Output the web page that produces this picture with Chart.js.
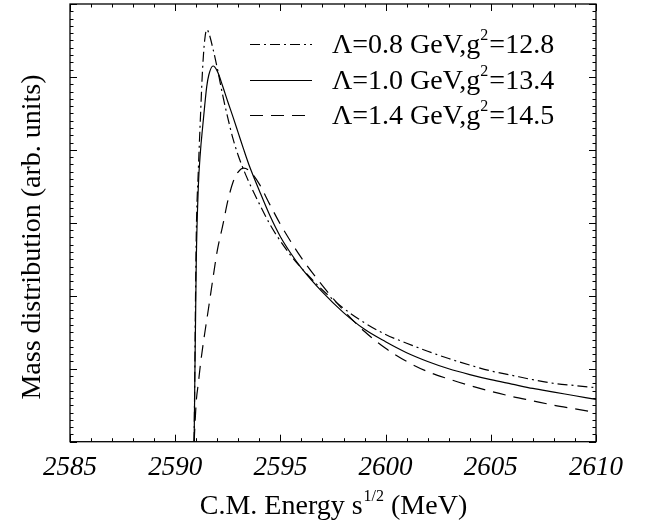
<!DOCTYPE html>
<html>
<head>
<meta charset="utf-8">
<script src="https://cdn.jsdelivr.net/npm/chart.js@4/dist/chart.umd.min.js"></script>
<style>
html,body{margin:0;padding:0;background:#fff;}
#wrap{width:653px;height:525px;position:relative;}
</style>
</head>
<body>
<div id="wrap"><canvas id="c" width="653" height="525"></canvas></div>
<script>
// ---- data ----
const energy = [2590.9, 2591.0, 2591.1, 2591.2, 2591.3, 2591.4, 2591.5, 2591.6, 2591.8, 2592.0,
  2592.25, 2592.5, 2592.75, 2593.0, 2593.25, 2593.5, 2594.0, 2594.5, 2595.0, 2595.5,
  2596.0, 2597.0, 2598.0, 2599.0, 2600.0, 2601.0, 2602.0, 2603.0, 2604.0, 2605.0,
  2606.0, 2607.0, 2608.0, 2609.0, 2610.0];
const massL08 = [0, 2.8, 3.72, 4.45, 5.1, 5.5, 5.65, 5.6, 5.38, 5.12,
  4.76, 4.44, 4.15, 3.92, 3.73, 3.56, 3.26, 2.98, 2.75, 2.55,
  2.38, 2.08, 1.83, 1.63, 1.47, 1.35, 1.24, 1.14, 1.05, 0.97,
  0.91, 0.85, 0.80, 0.77, 0.74];
const massL10 = [0, 2.45, 3.5, 3.98, 4.3, 4.6, 4.87, 5.03, 5.15, 5.08,
  4.88, 4.66, 4.45, 4.23, 4.01, 3.80, 3.44, 3.10, 2.81, 2.58,
  2.38, 2.05, 1.77, 1.54, 1.37, 1.22, 1.10, 1.00, 0.92, 0.85,
  0.79, 0.73, 0.68, 0.63, 0.58];
const massL14 = [0, 0.55, 0.8, 1.06, 1.28, 1.48, 1.67, 1.86, 2.25, 2.62,
  2.95, 3.3, 3.56, 3.70, 3.75, 3.72, 3.53, 3.25, 2.98, 2.74,
  2.52, 2.14, 1.80, 1.51, 1.28, 1.10, 0.96, 0.86, 0.77, 0.69,
  0.62, 0.56, 0.50, 0.45, 0.40];
const lambdaGeV = ['0.8', '1.0', '1.4'];
const gSquared = ['12.8', '13.4', '14.5'];
const xTickValues = [2585, 2590, 2595, 2600, 2605, 2610];
const xTitleParts = ['C.M. Energy s', '1/2', ' (MeV)'];
const yTitle = 'Mass distribution (arb. units)';

const SERIF = '"Liberation Serif", "Times New Roman", serif';
const series = [massL08, massL10, massL14];
const dashes = [[10, 4, 2, 4], [], [13, 8]];

const datasets = series.map((s, i) => ({
  label: 'Λ=' + lambdaGeV[i] + ' GeV,g²=' + gSquared[i],
  data: energy.map((e, k) => ({x: e, y: s[k]})),
  borderColor: '#000',
  borderWidth: 1.2,
  borderDash: dashes[i],
  pointRadius: 0,
  fill: false,
  cubicInterpolationMode: 'monotone'
}));

const inwardTicks = {
  id: 'inwardTicks',
  afterDatasetsDraw(chart) {
    const {ctx, chartArea: a, scales: {x, y}} = chart;
    ctx.save();
    ctx.strokeStyle = '#000';
    ctx.lineWidth = 1;
    for (let v = 2585; v <= 2610; v += 1) {
      const px = Math.round(x.getPixelForValue(v)) + 0.5;
      const len = (v % 5 === 0) ? 7 : 3.5;
      ctx.beginPath();
      ctx.moveTo(px, a.bottom); ctx.lineTo(px, a.bottom - len);
      ctx.moveTo(px, a.top); ctx.lineTo(px, a.top + len);
      ctx.stroke();
    }
    for (let k = 0; k <= 60; k++) {
      const v = k / 10;
      const py = Math.round(y.getPixelForValue(v)) + 0.5;
      const len = (k % 10 === 0) ? 7 : 3.5;
      ctx.beginPath();
      ctx.moveTo(a.left, py); ctx.lineTo(a.left + len, py);
      ctx.moveTo(a.right, py); ctx.lineTo(a.right - len, py);
      ctx.stroke();
    }
    ctx.lineWidth = 1.3;
    ctx.strokeRect(a.left, a.top, a.right - a.left, a.bottom - a.top);
    ctx.restore();
  }
};

const texts = {
  id: 'texts',
  afterDraw(chart) {
    const {ctx, chartArea: a} = chart;
    ctx.save();
    ctx.fillStyle = '#000';
    ctx.textBaseline = 'alphabetic';
    // legend
    const rowY = [44, 80, 115];
    chart.data.datasets.forEach((ds, i) => {
      ctx.save();
      ctx.strokeStyle = ds.borderColor;
      ctx.lineWidth = ds.borderWidth;
      ctx.setLineDash(ds.borderDash);
      ctx.beginPath();
      ctx.moveTo(250, rowY[i] + 0.5); ctx.lineTo(312, rowY[i] + 0.5);
      ctx.stroke();
      ctx.restore();
      const base = rowY[i] + 9;
      let tx = 332;
      ctx.font = '28px ' + SERIF;
      const p1 = 'Λ=' + lambdaGeV[i] + ' GeV,g';
      ctx.fillText(p1, tx, base); tx += ctx.measureText(p1).width;
      ctx.font = '16px ' + SERIF;
      ctx.fillText('2', tx, base - 13); tx += ctx.measureText('2').width + 1;
      ctx.font = '28px ' + SERIF;
      ctx.fillText('=' + gSquared[i], tx, base);
    });
    // x title
    const big = '28px ' + SERIF, small = '16px ' + SERIF;
    ctx.font = big; const w1 = ctx.measureText(xTitleParts[0]).width;
    const w3 = ctx.measureText(xTitleParts[2]).width;
    ctx.font = small; const w2 = ctx.measureText(xTitleParts[1]).width;
    let tx = (a.left + a.right) / 2 - (w1 + w2 + w3) / 2;
    const base = 514;
    ctx.font = big; ctx.fillText(xTitleParts[0], tx, base); tx += w1;
    ctx.font = small; ctx.fillText(xTitleParts[1], tx + 1, base - 13); tx += w2 + 1;
    ctx.font = big; ctx.fillText(xTitleParts[2], tx, base);
    // y title
    ctx.save();
    ctx.translate(40, 237);
    ctx.rotate(-Math.PI / 2);
    ctx.font = '28px ' + SERIF;
    ctx.textAlign = 'center';
    ctx.fillText(yTitle, 0, 0);
    ctx.restore();
    ctx.restore();
  }
};

new Chart(document.getElementById('c'), {
  type: 'line',
  data: {datasets},
  options: {
    responsive: false,
    animation: false,
    devicePixelRatio: 1,
    layout: {padding: {top: 4, right: 57, left: 0, bottom: 0}},
    plugins: {legend: {display: false}, tooltip: {enabled: false}},
    scales: {
      x: {
        type: 'linear', min: 2585, max: 2610,
        afterBuildTicks: (s) => { s.ticks = xTickValues.map(v => ({value: v})); },
        afterFit: (s) => { s.height = 83.3; },
        grid: {display: false, drawTicks: false},
        border: {display: false},
        ticks: {color: '#000', padding: 10, font: {family: SERIF, size: 27, style: 'italic'}, maxRotation: 0, autoSkip: false,
          callback: (v) => String(v)}
      },
      y: {
        type: 'linear', min: 0, max: 6,
        afterFit: (s) => { s.width = 70; },
        grid: {display: false, drawTicks: false},
        border: {display: false},
        ticks: {display: false}
      }
    }
  },
  plugins: [inwardTicks, texts]
});
</script>
</body>
</html>
